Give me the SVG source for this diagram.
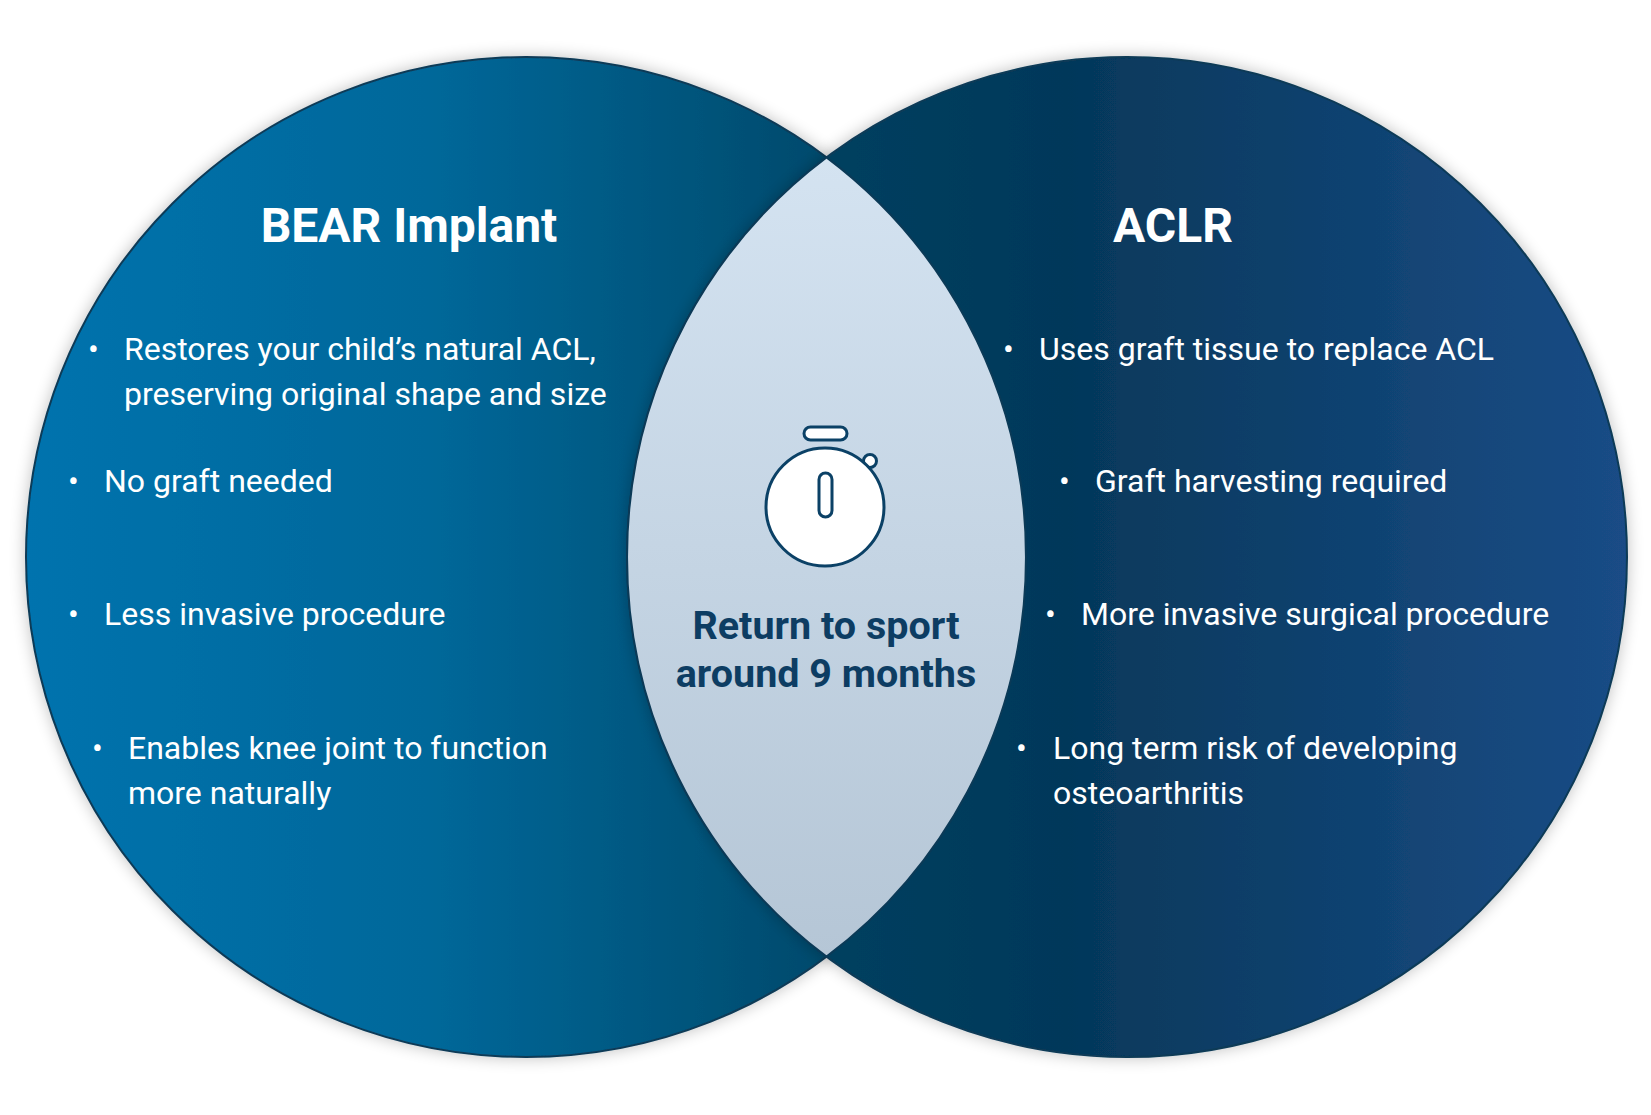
<svg xmlns="http://www.w3.org/2000/svg" width="1651" height="1115" viewBox="0 0 1651 1115">
<style>
.b{font-family:Roboto,"Liberation Sans",sans-serif;font-size:32px;fill:#fff}
.t{font-family:Roboto,"Liberation Sans",sans-serif;font-size:48px;font-weight:bold;fill:#fff;text-anchor:middle}
.c{font-family:Roboto,"Liberation Sans",sans-serif;font-size:39.5px;font-weight:bold;fill:#0d3d63;text-anchor:middle}
</style>
<defs>
<linearGradient id="gl" x1="26" y1="0" x2="826" y2="0" gradientUnits="userSpaceOnUse"><stop offset="0" stop-color="#0273ae"/><stop offset="0.5" stop-color="#06689a"/><stop offset="1" stop-color="#054a6c"/></linearGradient>
<linearGradient id="gr" x1="826" y1="0" x2="1627" y2="0" gradientUnits="userSpaceOnUse"><stop offset="0" stop-color="#06405f"/><stop offset="0.3" stop-color="#05385a"/><stop offset="1" stop-color="#1a4c86"/></linearGradient>
<linearGradient id="gc" x1="0" y1="157" x2="0" y2="957" gradientUnits="userSpaceOnUse"><stop offset="0" stop-color="#d4e3f1"/><stop offset="1" stop-color="#b5c6d6"/></linearGradient>
<filter id="sh" x="-10%" y="-10%" width="120%" height="120%"><feGaussianBlur in="SourceAlpha" stdDeviation="8"/><feComponentTransfer><feFuncA type="linear" slope="0.25"/></feComponentTransfer><feMerge><feMergeNode/><feMergeNode in="SourceGraphic"/></feMerge></filter>
</defs>
<rect width="1651" height="1115" fill="#fff"/>
<g id="left" filter="url(#sh)"><circle cx="526" cy="557" r="500" fill="url(#gl)" stroke="#0b3a57" stroke-width="2"/></g>
<g id="right" filter="url(#sh)"><circle cx="1127" cy="557" r="500" fill="url(#gr)" stroke="#0b3a57" stroke-width="2"/></g>
<g id="center">
<path d="M826.5,157.4 A500 500 0 0 1 826.5 956.6 A500 500 0 0 1 826.5 157.4 Z" fill="url(#gc)" stroke="#0b3a57" stroke-width="2"/>
<g fill="#fff" stroke="#0b4166" stroke-width="3">
<rect x="804" y="427" width="43" height="13" rx="6.5"/>
<circle cx="870" cy="461" r="6.5"/>
<circle cx="825" cy="507" r="59"/>
<rect x="819" y="473" width="13" height="44" rx="6.5"/>
</g>
<text class="c" x="826" y="639">Return to sport</text>
<text class="c" x="826" y="687">around 9 months</text>
</g>
<g id="bear">
<text class="t" x="409" y="242">BEAR Implant</text>
<text class="b" x="88" y="360">•</text><text class="b" x="124" y="360">Restores your child’s natural ACL,</text>
<text class="b" x="124" y="405">preserving original shape and size</text>
<text class="b" x="68" y="492">•</text><text class="b" x="104" y="492">No graft needed</text>
<text class="b" x="68" y="625">•</text><text class="b" x="104" y="625">Less invasive procedure</text>
<text class="b" x="92" y="759">•</text><text class="b" x="128" y="759">Enables knee joint to function</text>
<text class="b" x="128" y="804">more naturally</text>
</g>
<g id="aclr">
<text class="t" x="1173" y="242">ACLR</text>
<text class="b" x="1003" y="360">•</text><text class="b" x="1039" y="360">Uses graft tissue to replace ACL</text>
<text class="b" x="1059" y="492">•</text><text class="b" x="1095" y="492">Graft harvesting required</text>
<text class="b" x="1045" y="625">•</text><text class="b" x="1081" y="625">More invasive surgical procedure</text>
<text class="b" x="1016" y="759">•</text><text class="b" x="1053" y="759">Long term risk of developing</text>
<text class="b" x="1053" y="804">osteoarthritis</text>
</g>
<g id="connectors"/>
</svg>
